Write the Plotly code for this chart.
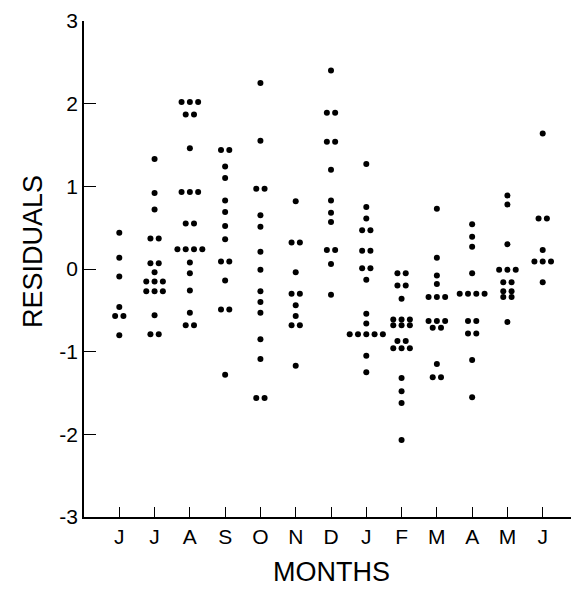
import plotly.graph_objects as go
from collections import Counter

months = ["J", "J", "A", "S", "O", "N", "D", "J", "F", "M", "A", "M", "J"]

jun1 = [0.44, 0.135, -0.09, -0.46, -0.57, -0.57, -0.80]
jul = [1.33, 0.92, 0.72, 0.37, 0.37, 0.07, 0.07, -0.04, -0.15, -0.15, -0.15,
       -0.27, -0.27, -0.27, -0.56, -0.79, -0.79]
aug = [2.02, 2.02, 2.02, 1.87, 1.87, 1.46, 0.93, 0.93, 0.93, 0.55, 0.55,
       0.24, 0.24, 0.24, 0.24, 0.08, -0.05, -0.26, -0.53, -0.68, -0.68]
sep = [1.44, 1.44, 1.24, 1.10, 0.83, 0.69, 0.52, 0.36, 0.09, 0.09, -0.14,
       -0.49, -0.49, -1.28]
oct_ = [2.25, 1.55, 0.97, 0.97, 0.65, 0.51, 0.21, -0.01, -0.27, -0.40, -0.53,
        -0.85, -1.09, -1.56, -1.56]
nov = [0.82, 0.32, 0.32, -0.04, -0.30, -0.30, -0.44, -0.57, -0.68, -0.68, -1.17]
dec = [2.40, 1.89, 1.89, 1.54, 1.54, 1.20, 0.83, 0.68, 0.57, 0.23, 0.23, 0.06, -0.31]
jan = [1.27, 0.75, 0.61, 0.47, 0.47, 0.22, 0.22, 0.01, 0.01, -0.13, -0.54, -0.66,
       -0.79, -0.79, -0.79, -0.79, -0.79, -1.05, -1.25]
feb = [-0.05, -0.05, -0.20, -0.20, -0.36, -0.61, -0.61, -0.61, -0.68, -0.68, -0.68,
       -0.87, -0.87, -0.96, -0.96, -0.96, -1.32, -1.48, -1.62, -2.07]
mar = [0.73, 0.135, -0.08, -0.18, -0.34, -0.34, -0.34, -0.63, -0.63, -0.63,
       -0.71, -0.71, -1.15, -1.31, -1.31]
apr = [0.54, 0.39, 0.27, -0.05, -0.30, -0.30, -0.30, -0.30, -0.63, -0.63,
       -0.78, -0.78, -1.10, -1.55]
may = [0.89, 0.78, 0.30, -0.01, -0.01, -0.01, -0.16, -0.16, -0.27, -0.27,
       -0.34, -0.34, -0.64]
jun2 = [1.64, 0.61, 0.61, 0.23, 0.09, 0.09, 0.09, -0.16]

series = [jun1, jul, aug, sep, oct_, nov, dec, jan, feb, mar, apr, may, jun2]

# tied values are laid side by side, like a dot plot
step = 0.235
xs, ys = [], []
for i, vals in enumerate(series):
    counts = Counter(vals)
    for v, n in counts.items():
        for k in range(n):
            xs.append(i + 1 + (k - (n - 1) / 2) * step)
            ys.append(v)

font = "Liberation Sans, Arial, sans-serif"

fig = go.Figure()
fig.add_trace(go.Scatter(x=xs, y=ys, mode="markers",
                         marker=dict(color="black", size=6), showlegend=False))

# the page body adds an 8px margin, so the figure is sized to fit inside it
fig.update_layout(
    width=571, height=583,
    margin=dict(l=76, r=1, t=13, b=74),
    plot_bgcolor="white", paper_bgcolor="white",
    font=dict(family=font, color="black"),
    xaxis=dict(range=[0, 14], tickvals=list(range(1, 15)), ticktext=months + [""],
               ticks="inside", ticklen=10, tickwidth=1.2, tickcolor="black",
               showline=True, linecolor="black", linewidth=1.5, automargin=False,
               showgrid=False, zeroline=False, tickfont=dict(size=21, family=font)),
    yaxis=dict(range=[-3, 3], tickvals=[-3, -2, -1, 0, 1, 2, 3],
               ticktext=["-3", "-2", "-1", "0", "1", "2", "3"],
               ticks="inside", ticklen=12, tickwidth=1.2, tickcolor="black",
               showline=True, linecolor="black", linewidth=1.5, automargin=False,
               showgrid=False, zeroline=False, tickfont=dict(size=21, family=font)),
    annotations=[
        dict(text="MONTHS", xref="paper", yref="paper", x=0.5, y=(517 - 572) / 496,
             showarrow=False, font=dict(size=27, family=font), xanchor="center", yanchor="middle"),
        dict(text="RESIDUALS", xref="paper", yref="paper", x=(33 - 84) / 494, y=(517 - 252) / 496,
             showarrow=False, textangle=-90, font=dict(size=27, family=font),
             xanchor="center", yanchor="middle"),
    ],
)

fig.write_html("out.html")
